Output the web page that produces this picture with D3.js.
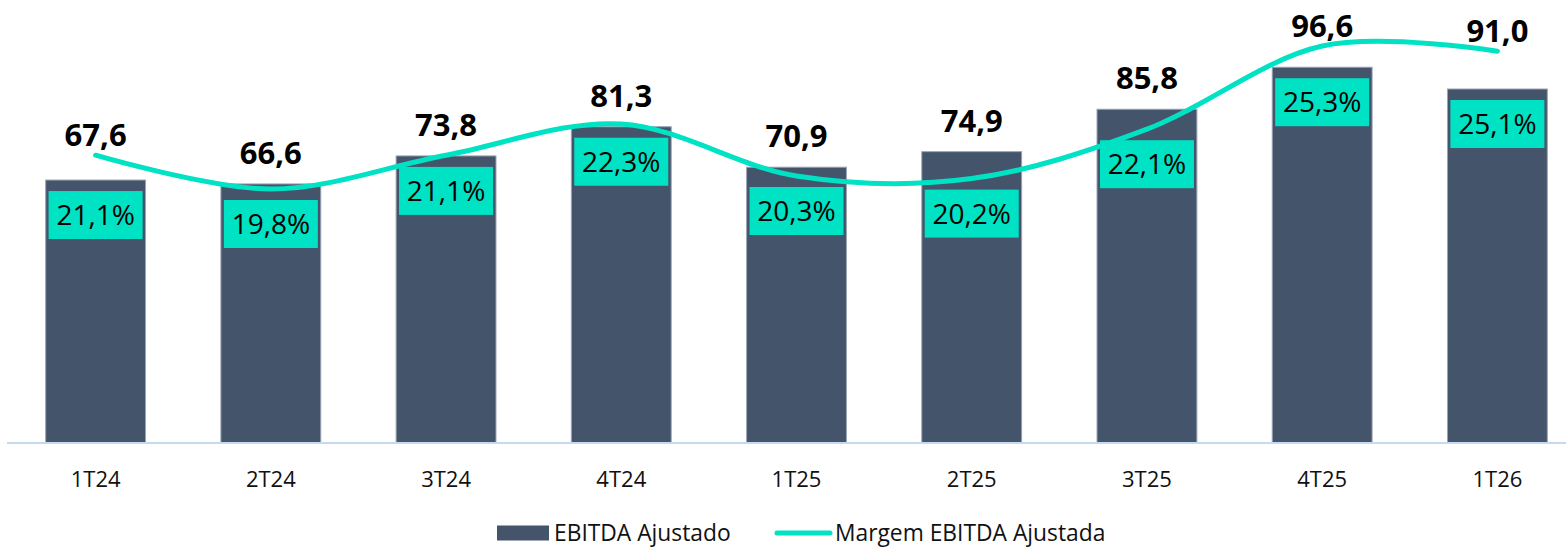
<!DOCTYPE html>
<html lang="pt">
<head>
<meta charset="UTF-8">
<title>EBITDA Ajustado</title>
<script src="https://d3js.org/d3.v7.min.js"></script>
<style>
    body { margin: 0; background: #fff; }
    svg { display: block; font-family: "Open Sans", "Noto Sans", sans-serif; }
</style>
</head>
<body>
<div id="chart"></div>
<script>
    // data
    const quarters = ["1T24", "2T24", "3T24", "4T24", "1T25", "2T25", "3T25", "4T25", "1T26"];
    const ebitda = [67.6, 66.6, 73.8, 81.3, 70.9, 74.9, 85.8, 96.6, 91.0];
    const margem = [21.1, 19.8, 21.1, 22.3, 20.3, 20.2, 22.1, 25.3, 25.1];
    const seriesNames = ["EBITDA Ajustado", "Margem EBITDA Ajustada"];

    const width = 1566, height = 548;
    const barColor = "#44546A", lineColor = "#00E2C4";

    const fmt = (v, d) => v.toFixed(d).replace(".", ",");

    const svg = d3.select("#chart").append("svg")
        .attr("width", width)
        .attr("height", height);

    // scales
    const x = d3.scaleBand()
        .domain(quarters)
        .range([8, 1585])
        .paddingInner(0.43)
        .paddingOuter(0.215);

    const y = d3.scaleLinear().domain([0, 120]).range([443, 443 - 120 * 3.89]);
    const y2 = d3.scaleLinear().domain([0, 30]).range([703.8, 703.8 - 30 * 26]);

    const data = quarters.map((q, i) => ({ q, v: ebitda[i], m: margem[i] }));
    const cx = d => x(d.q) + x.bandwidth() / 2;

    // bars
    svg.append("g").selectAll("rect")
        .data(data)
        .enter().append("rect")
        .attr("x", d => x(d.q))
        .attr("y", d => y(d.v))
        .attr("width", x.bandwidth())
        .attr("height", d => y(0) - y(d.v))
        .attr("fill", barColor)
        .attr("stroke", "#9aa5b4")
        .attr("stroke-width", 1);

    // x axis
    const xAxis = svg.append("g")
        .attr("transform", `translate(0,${y(0)})`)
        .call(d3.axisBottom(x).tickSize(0).tickPadding(28));
    xAxis.select(".domain").remove();
    xAxis.append("line")
        .attr("x1", 7).attr("x2", width)
        .attr("stroke", "#C6D9F1")
        .attr("stroke-width", 2);
    xAxis.selectAll("text")
        .attr("font-size", 22)
        .attr("fill", "#111")
        .attr("font-family", "'Open Sans', sans-serif");

    // margin line
    const line = d3.line()
        .x(cx)
        .y(d => y2(d.m))
        .curve(d3.curveCardinal.tension(0));

    svg.append("path")
        .datum(data)
        .attr("d", line)
        .attr("fill", "none")
        .attr("stroke", lineColor)
        .attr("stroke-width", 5)
        .attr("stroke-linecap", "round");

    // percentage labels in boxes
    const boxes = svg.append("g").selectAll("g")
        .data(data)
        .enter().append("g")
        .attr("transform", d => `translate(${cx(d)},${Math.max(y(d.v), y2(d.m)) + 35})`);

    boxes.append("rect")
        .attr("x", -47).attr("y", -24)
        .attr("width", 94).attr("height", 48)
        .attr("fill", lineColor);

    boxes.append("text")
        .attr("text-anchor", "middle")
        .attr("dy", "0.36em")
        .attr("font-size", 28)
        .attr("fill", "#000")
        .text(d => fmt(d.m, 1) + "%");

    // value labels
    svg.append("g").selectAll("text")
        .data(data)
        .enter().append("text")
        .attr("x", cx)
        .attr("y", d => Math.min(y(d.v) - 31, y2(d.m) - 20))
        .attr("dy", "0.36em")
        .attr("text-anchor", "middle")
        .attr("font-size", 31)
        .attr("font-weight", "bold")
        .attr("fill", "#000")
        .text(d => fmt(d.v, 1));

    // legend
    const legend = svg.append("g").attr("transform", "translate(497,533)");

    legend.append("rect")
        .attr("x", 0).attr("y", -7.5)
        .attr("width", 52).attr("height", 15)
        .attr("fill", barColor);
    legend.append("text")
        .attr("x", 57).attr("dy", "0.36em")
        .attr("font-size", 22.8)
        .attr("fill", "#111")
        .text(seriesNames[0]);

    legend.append("line")
        .attr("x1", 280).attr("x2", 333)
        .attr("stroke", lineColor)
        .attr("stroke-width", 5)
        .attr("stroke-linecap", "round");
    legend.append("text")
        .attr("x", 338).attr("dy", "0.36em")
        .attr("font-size", 22.8)
        .attr("fill", "#111")
        .text(seriesNames[1]);
</script>
</body>
</html>
